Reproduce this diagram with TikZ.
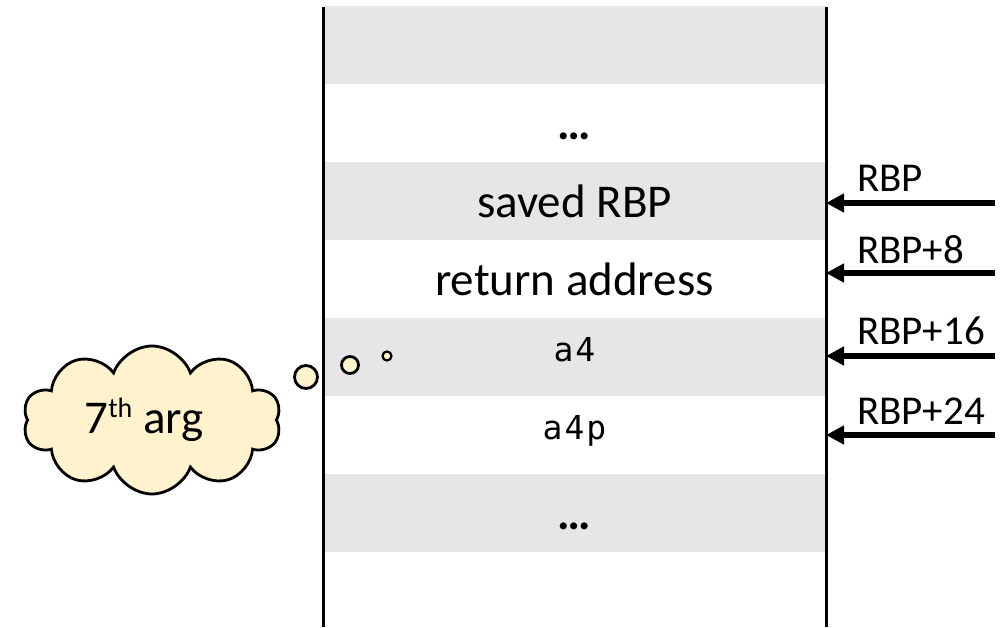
\documentclass[tikz,border=0pt]{standalone}
\usepackage{fontspec}
\setmainfont{Carlito}
\newfontfamily\codefont[LetterSpace=6]{DejaVu Sans Mono}
\usetikzlibrary{arrows.meta,shapes.symbols}
\definecolor{bandgray}{RGB}{230,230,230}
\definecolor{cloudfill}{RGB}{255,242,204}
\begin{document}
\begin{tikzpicture}[x=1pt,y=-1pt,
  cell/.style={minimum width=503pt,minimum height=78pt,inner sep=0pt,outer sep=0pt,
    text height=32pt,text depth=0pt,font=\fontsize{47}{50}\selectfont},
  graycell/.style={cell,fill=bandgray},
  codecell/.style={text height=16pt,text depth=8pt,font=\codefont\fontsize{33}{36}\selectfont},
  ptr/.style={line width=5.5pt,-{Triangle[length=18pt,width=18pt]}},
  ptrlabel/.style={anchor=west,inner sep=0pt,font=\fontsize{41}{44}\selectfont},
  bubble/.style={circle,draw,line width=2.8pt,fill=cloudfill,inner sep=0pt},
  wall/.style={line width=3pt}]
\useasboundingbox (0,0) rectangle (1002,627);
% cells
\node[graycell] (c0) at (574.5,45) {};
\node[cell] (c1) at (574.5,123) {\textbf{…}};
\node[graycell] (c2) at (574.5,201) {saved RBP};
\node[cell] (c3) at (574.5,279) {return address};
\node[graycell,codecell] (c4) at (574.5,357) {a4};
\node[cell,codecell] (c5) at (574.5,435) {a4p};
\node[graycell] (c6) at (574.5,513) {\textbf{…}};
\node[cell] (c7) at (574.5,591) {};
% walls
\coordinate (lt) at (323,7);
\coordinate (lb) at (323,627);
\coordinate (rt) at (826,7);
\coordinate (rb) at (826,627);
\draw[wall] (lt) -- (lb);
\draw[wall] (rt) -- (rb);
% pointers
\coordinate (p0) at (995,203);
\coordinate (p1) at (995,273);
\coordinate (p2) at (995,356);
\coordinate (p3) at (995,435);
\draw[ptr] (p0) -- (rt |- p0);
\draw[ptr] (p1) -- (rt |- p1);
\draw[ptr] (p2) -- (rt |- p2);
\draw[ptr] (p3) -- (rt |- p3);
\node[ptrlabel] (l0) at (857,178) {RBP};
\node[ptrlabel] (l1) at (857,250) {RBP+8};
\node[ptrlabel] (l2) at (857,331) {RBP+16};
\node[ptrlabel] (l3) at (857,411) {RBP+24};
% thought cloud
\node[cloud,cloud puffs=10,cloud puff arc=140,aspect=1.8,draw,line width=2.8pt,fill=cloudfill,
  minimum width=258pt,minimum height=148pt,inner sep=0pt,font=\fontsize{47}{50}\selectfont]
  (cloud) at (152,420) {7\raisebox{16pt}{\fontsize{28}{28}\selectfont th} arg\hspace*{16pt}};
\node[bubble,minimum size=23pt] (b1) at (306,377) {};
\node[bubble,minimum size=17pt] (b2) at (350,365) {};
\node[bubble,minimum size=9pt,line width=2.2pt] (b3) at (387,356) {};
\end{tikzpicture}
\end{document}
